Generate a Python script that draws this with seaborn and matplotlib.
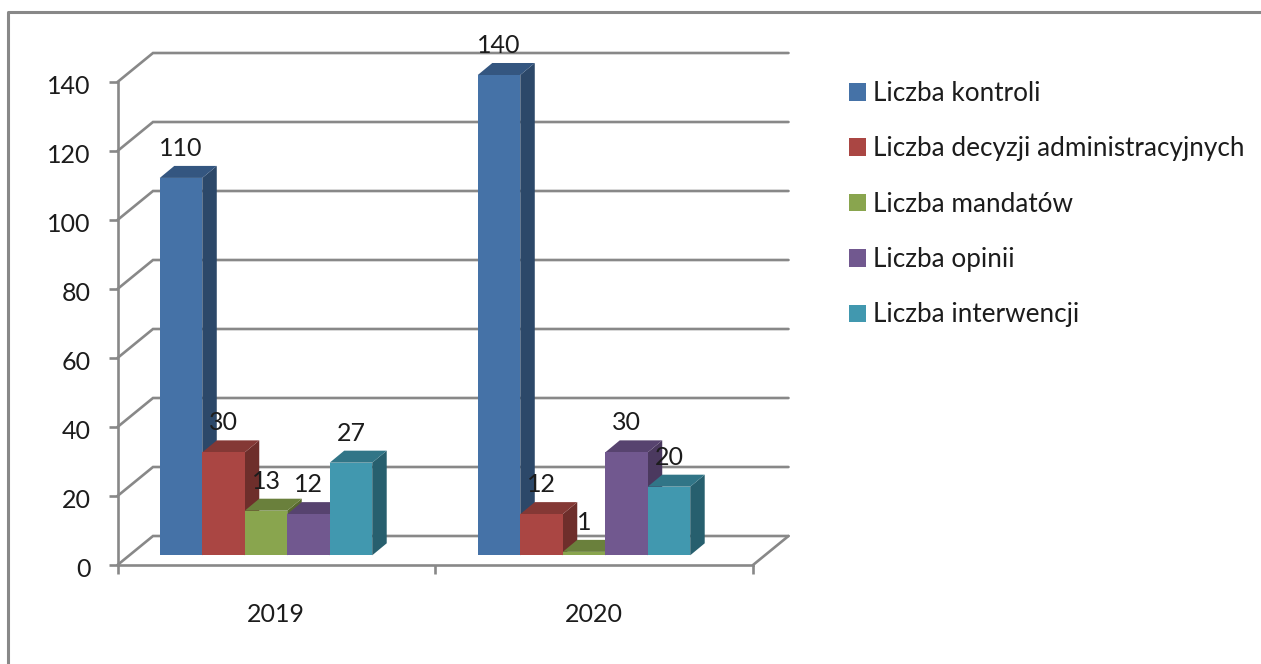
import matplotlib
matplotlib.use("Agg")
import matplotlib.pyplot as plt
from matplotlib.lines import Line2D
from matplotlib.patches import Polygon
from matplotlib.transforms import ScaledTranslation
import pandas as pd
import seaborn as sns

# dane z wykresu
lata = ["2019", "2020"]
serie = ["Liczba kontroli", "Liczba decyzji administracyjnych", "Liczba mandatów",
         "Liczba opinii", "Liczba interwencji"]
wartosci_2019 = [110, 30, 13, 12, 27]
wartosci_2020 = [140, 12, 1, 30, 20]
kolory = ["#4572A7", "#AA4643", "#89A54E", "#71588F", "#4198AF"]
kolory_gora = ["#345680", "#843835", "#6A803C", "#57436F", "#317587"]
kolory_bok = ["#2C4869", "#6E2E2B", "#58692F", "#4B395F", "#275F6E"]

df = pd.DataFrame({
    "rok": [lata[0]] * len(serie) + [lata[1]] * len(serie),
    "seria": serie * 2,
    "wartosc": wartosci_2019 + wartosci_2020,
})

sns.set_theme(style="white")
plt.rcParams["font.family"] = ["Lato", "DejaVu Sans"]
plt.rcParams["text.color"] = "#1c1c1c"

SZARY = "#888888"
W, H = 1261, 664
fig = plt.figure(figsize=(W / 100, H / 100), dpi=100)


def pozycja(x0, x1, y_dol, y_gora):
    return [x0 / W, 1 - y_dol / H, (x1 - x0) / W, (y_dol - y_gora) / H]


# ramka wokol wykresu
fig.add_artist(Line2D([7.5 / W, 7.5 / W, 1], [0, 1 - 11.5 / H, 1 - 11.5 / H],
                      color=SZARY, lw=2.2))

# osie i sciany
ax = fig.add_axes(pozycja(117.5, 753, 565, 82))
ax.set_xlim(0, 2)
ax.set_ylim(0, 140)
ax.patch.set_alpha(0)
sns.despine(ax=ax)
for s in ["left", "bottom"]:
    ax.spines[s].set_color(SZARY)
    ax.spines[s].set_linewidth(1.9)
ax.set_yticks(range(0, 141, 20))
ax.set_xticks([0, 1, 2])
ax.set_xticklabels([])
ax.set_xticks([0.5, 1.5], labels=lata, minor=True)
ax.tick_params(which="major", axis="both", length=6.2, width=1.9, color=SZARY,
               left=True, bottom=True)
ax.tick_params(axis="y", labelsize=18, pad=13, labelcolor="#1c1c1c")
ax.tick_params(axis="x", which="minor", length=0, labelsize=18, pad=27.5, labelcolor="#1c1c1c")

# etykiety osi Y minimalnie nizej, jak w oryginale
przesun = ScaledTranslation(0, -1.5 / 72, fig.dpi_scale_trans)
for lab in ax.get_yticklabels():
    lab.set_transform(lab.get_transform() + przesun)

gl_x = 35.5 / 635.5
gl_y = 29 / 3.45
tr = ax.get_yaxis_transform()
for v in range(0, 141, 20):
    ax.plot([0, gl_x, 1 + gl_x], [v, v + gl_y, v + gl_y], color=SZARY, lw=1.9,
            transform=tr, clip_on=False, solid_joinstyle="miter")
ax.plot([1, 1 + gl_x], [0, gl_y], color=SZARY, lw=1.9, transform=tr, clip_on=False)

# slupki
ax_bar = fig.add_axes(pozycja(107, 743, 555.3, 75))
ax_bar.patch.set_alpha(0)
sns.barplot(data=df, x="rok", y="wartosc", hue="seria", hue_order=serie, palette=kolory,
            width=0.668, saturation=1, gap=0, linewidth=0, ax=ax_bar)
ax_bar.set_xlim(-0.5, 1.5)
ax_bar.set_ylim(0, 140)
ax_bar.axis("off")

dx = 14.5 / 318
dy = 12 / 3.43
for i, cont in enumerate(ax_bar.containers):
    for b in cont:
        x0, x1, h = b.get_x(), b.get_x() + b.get_width(), b.get_height()
        z = 3 + 3 * i
        b.set_zorder(z + 2)
        ax_bar.add_patch(Polygon([(x1, 0), (x1 + dx, dy), (x1 + dx, h + dy), (x1, h)],
                                 fc=kolory_bok[i], ec="none", zorder=z, clip_on=False))
        ax_bar.add_patch(Polygon([(x0, h), (x0 + dx, h + dy), (x1 + dx, h + dy), (x1, h)],
                                 fc=kolory_gora[i], ec="none", zorder=z + 1, clip_on=False))
    ax_bar.bar_label(cont, fmt="%d", fontsize=18, padding=13, color="#1c1c1c",
                     zorder=100, clip_on=False)

# legenda
uchwyty, etykiety = ax_bar.get_legend_handles_labels()
ax_bar.get_legend().remove()
fig.legend(uchwyty, etykiety, loc="upper left", bbox_to_anchor=(849 / W, 1 - 81 / H),
           bbox_transform=fig.transFigure, frameon=False, fontsize=18.85, handlelength=0.65,
           handleheight=0.65, handletextpad=0.26, labelspacing=1.16, borderpad=0, borderaxespad=0)

fig.savefig("out.png", dpi=100)
